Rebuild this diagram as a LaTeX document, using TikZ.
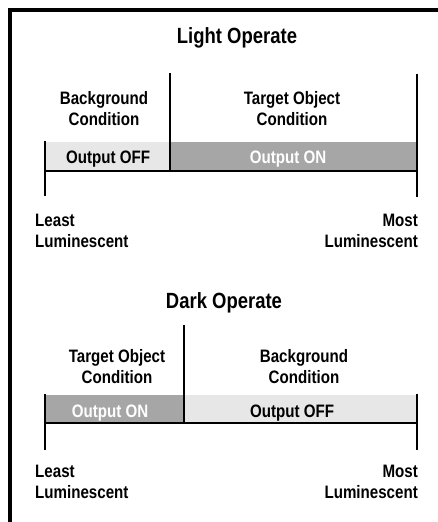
\documentclass[tikz,border=0pt]{standalone}
\usepackage{fontspec}
\setmainfont{Liberation Sans}[FakeStretch=0.84]
\usepackage{tikz}
\usetikzlibrary{positioning}
\definecolor{offgray}{RGB}{231,231,231}
\definecolor{ongray}{RGB}{166,166,166}
\tikzset{title text/.style={font=\fontsize{22}{26}\selectfont\bfseries,inner sep=0pt},
  cond text/.style={font=\fontsize{18}{21}\selectfont\bfseries,align=center,inner sep=0pt},
  end text/.style={font=\fontsize{18}{21}\selectfont\bfseries,inner sep=0pt},
  scale line/.style={line width=1.5pt},
  frame line/.style={line width=3.2pt},
}

\begin{document}
\begin{tikzpicture}[x=1pt,y=-1pt]
\useasboundingbox (0,0) rectangle (438,522);
\draw[frame line] (10,522) -- (10,10) -- (438,10);

%% light operate
\node[title text,anchor=base] (light) at (237,43) {Light Operate};
\coordinate (l-ll) at (45,196);
\coordinate (l-lt) at (45,141);
\coordinate (l-rl) at (417,197);
\coordinate (l-rt) at (417,74);
\coordinate (l-dt) at (170,73);
\coordinate (l-db) at (170,171);
\coordinate (l-bl) at (45,171);
\coordinate (l-br) at (417,171);
\fill[offgray] (45,142) rectangle (170,171);
\fill[ongray] (170,142) rectangle (417,171);
\node[cond text,anchor=base] (l-bg) at (104,125) {Background\\Condition};
\node[cond text,anchor=base] (l-tg) at (292,125) {Target Object\\Condition};
\node[end text,anchor=base] (l-off) at (108,163) {Output OFF};
\node[end text,anchor=base,text=white] (l-on) at (288,163) {Output ON};
\node[end text,align=left,anchor=base west] (l-least) at (35,247) {Least\\Luminescent};
\node[end text,align=right,anchor=base east] (l-most) at (418,247) {Most\\Luminescent};
\draw[scale line] (l-lt) -- (l-ll);
\draw[scale line] (l-rt) -- (l-rl);
\draw[scale line] (l-dt) -- (l-db);
\draw[scale line] (l-bl) -- (l-br);

%% dark operate
\node[title text,anchor=base] (dark) at (224,308) {Dark Operate};
\coordinate (d-ll) at (45,450);
\coordinate (d-lt) at (45,394);
\coordinate (d-rl) at (417,450);
\coordinate (d-rt) at (417,394);
\coordinate (d-dt) at (184,325);
\coordinate (d-db) at (184,423);
\coordinate (d-bl) at (45,423);
\coordinate (d-br) at (417,423);
\fill[ongray] (45,395) rectangle (184,423);
\fill[offgray] (184,395) rectangle (417,423);
\node[cond text,anchor=base] (d-tg) at (117,383) {Target Object\\Condition};
\node[cond text,anchor=base] (d-bg) at (304,383) {Background\\Condition};
\node[end text,anchor=base,text=white] (d-on) at (110,417) {Output ON};
\node[end text,anchor=base] (d-off) at (292,417) {Output OFF};
\node[end text,align=left,anchor=base west] (d-least) at (35,498) {Least\\Luminescent};
\node[end text,align=right,anchor=base east] (d-most) at (418,498) {Most\\Luminescent};
\draw[scale line] (d-lt) -- (d-ll);
\draw[scale line] (d-rt) -- (d-rl);
\draw[scale line] (d-dt) -- (d-db);
\draw[scale line] (d-bl) -- (d-br);
\end{tikzpicture}
\end{document}
